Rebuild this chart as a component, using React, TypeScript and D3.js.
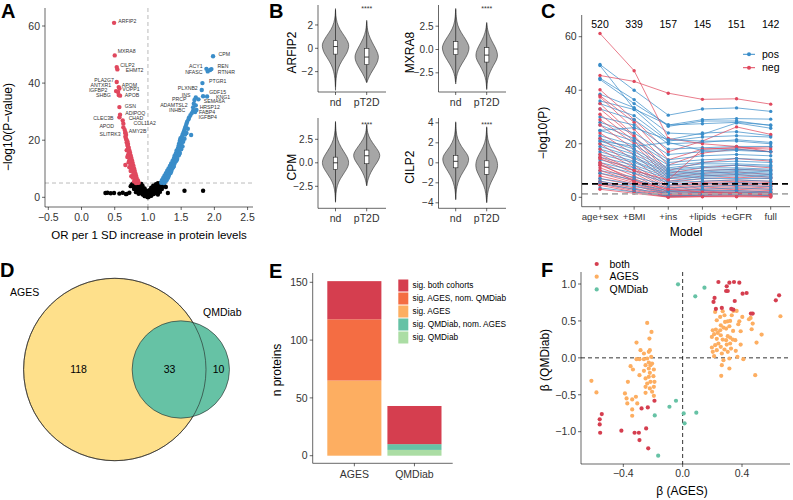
import React from 'react';
import * as d3 from 'd3';

const FONT = '"Liberation Sans", Arial, Helvetica, sans-serif';
const RED = '#D53E4F';
const ORANGE = '#F46D43';
const LORANGE = '#FDAE61';
const YELLOW = '#FEE08B';
const LGREEN = '#ABDDA4';
const TEAL = '#66C2A5';
const VRED = '#E0485E';
const VBLUE = '#3A8DC9';

// ---------------- Panel A: volcano ----------------
const aRedLabeled: [string, number, number][] = [
  ['ARFIP2', 0.49, 61.1], ['MXRA8', 0.5, 49.7], ['CILP2', 0.53, 45.6], ['EHMT2', 0.54, 44.8],
  ['PLA2G7', 0.53, 40.4], ['ANTXR1', 0.56, 38.6], ['APOM', 0.57, 38.1], ['IGFBP2', 0.52, 37.2],
  ['VOPP1', 0.55, 36.9], ['SHBG', 0.56, 35.8], ['APOB', 0.58, 35.6], ['GSN', 0.57, 31.6],
  ['ADIPOQ', 0.58, 28.9], ['CLEC3B', 0.57, 28.0], ['CHAD', 0.62, 26.9], ['COL11A2', 0.63, 25.8],
  ['APOD', 0.63, 24.5], ['AMY2B', 0.65, 23.6], ['SLITRK3', 0.66, 22.8],
];
const aRedLabelPos: [number, number][] = [
  [0.69, 61.6], [0.68, 51.3], [0.69, 46.3], [0.8, 44.4], [0.34, 41.1], [0.29, 39.1], [0.72, 39.4],
  [0.25, 37.5], [0.745, 37.7], [0.33, 35.6], [0.76, 35.9], [0.735, 32.0], [0.81, 29.5], [0.33, 27.8],
  [0.82, 27.8], [0.95, 25.9], [0.38, 25.0], [0.845, 23.3], [0.43, 22.1],
];
const aBlueLabeled: [string, number, number][] = [
  ['CPM', 1.98, 49.4], ['ACY1', 1.88, 45.0], ['REN', 1.935, 44.6], ['NFASC', 1.9, 44.1],
  ['RTN4R', 1.955, 44.9], ['PTGR1', 1.82, 40.0], ['PLXNB2', 1.81, 37.6], ['GDF15', 1.83, 35.4],
  ['KNG1', 1.89, 35.3], ['INS', 1.72, 35.0], ['SEMA6A', 1.76, 34.3], ['PRCP', 1.7, 34.1],
  ['ADAMTSL2', 1.69, 32.8], ['HRSP12', 1.72, 32.2], ['INHBC', 1.68, 31.5], ['FABP4', 1.73, 30.6],
  ['IGFBP4', 1.71, 29.9],
];
const aBlueLabelPos: [number, number][] = [
  [2.15, 50.2], [1.72, 45.8], [2.13, 46.0], [1.69, 43.8], [2.18, 44.0], [2.05, 40.6], [1.6, 38.2],
  [2.05, 36.9], [2.13, 35.2], [1.575, 35.8], [2.0, 33.5], [1.47, 34.2], [1.39, 32.4], [1.93, 31.6],
  [1.44, 30.4], [1.89, 29.8], [1.9, 28.0],
];
const aRedArm: [number, number][] = [
  [0.84, 5.2], [0.83, 5.6], [0.85, 5.9], [0.82, 6.3], [0.83, 6.8], [0.81, 7.1], [0.82, 7.6], [0.8, 8.0],
  [0.81, 8.4], [0.79, 8.9], [0.8, 9.3], [0.78, 9.8], [0.79, 10.2], [0.77, 10.7], [0.78, 11.1], [0.76, 11.6],
  [0.77, 12.0], [0.75, 12.5], [0.76, 12.9], [0.74, 13.4], [0.75, 13.8], [0.73, 14.3], [0.74, 14.7],
  [0.72, 15.2], [0.73, 15.6], [0.71, 16.1], [0.72, 16.5], [0.7, 17.0], [0.71, 17.4], [0.7, 17.9],
  [0.69, 18.3], [0.7, 18.7], [0.68, 19.2], [0.69, 19.6], [0.68, 20.0], [0.67, 20.5], [0.66, 21.2],
  [0.67, 21.8], [0.66, 22.4], [0.8, 6.5], [0.78, 8.2], [0.76, 10.0], [0.74, 11.5], [0.72, 13.0],
  [0.7, 14.8], [0.75, 7.4], [0.86, 5.1], [0.82, 5.0], [0.72, 10.5], [0.68, 16.5], [0.66, 11.3],
  [0.79, 5.5], [0.77, 6.9], [0.74, 9.2], [0.71, 12.3], [0.69, 14.1],
];
const aBlueArm: [number, number][] = [
  [1.2, 5.1], [1.22, 5.5], [1.21, 6.0], [1.24, 6.3], [1.23, 6.8], [1.26, 7.1], [1.25, 7.6], [1.28, 7.9],
  [1.27, 8.4], [1.3, 8.8], [1.29, 9.3], [1.32, 9.6], [1.31, 10.1], [1.34, 10.5], [1.33, 11.0], [1.36, 11.4],
  [1.35, 11.9], [1.38, 12.2], [1.37, 12.7], [1.4, 13.1], [1.39, 13.6], [1.41, 14.0], [1.4, 14.5],
  [1.43, 14.9], [1.42, 15.4], [1.44, 15.8], [1.43, 16.3], [1.46, 16.6], [1.45, 17.1], [1.47, 17.5],
  [1.46, 18.0], [1.48, 18.4], [1.47, 18.9], [1.49, 19.3], [1.48, 19.8], [1.5, 20.2], [1.49, 20.7],
  [1.51, 21.1], [1.52, 21.8], [1.53, 22.4], [1.54, 23.0], [1.55, 23.7], [1.56, 24.4], [1.57, 25.0],
  [1.58, 25.8], [1.59, 26.5], [1.61, 27.3], [1.62, 28.0], [1.64, 28.8], [1.66, 29.5], [1.68, 30.3],
  [1.28, 6.0], [1.32, 8.0], [1.36, 9.8], [1.4, 11.8], [1.44, 13.5], [1.48, 15.5], [1.52, 17.8],
  [1.55, 20.5], [1.25, 5.2], [1.3, 6.8], [1.34, 8.5], [1.38, 10.5], [1.42, 12.6], [1.46, 14.6],
  [1.5, 16.8], [1.53, 19.5], [1.58, 22.5], [1.65, 21.8], [1.56, 22.0], [1.24, 5.0], [1.27, 5.8],
  [1.31, 7.3], [1.35, 9.0], [1.39, 11.0], [1.43, 13.0], [1.47, 15.0], [1.51, 19.0], [1.6, 24.0],
];
const aBlack: [number, number][] = [
  [1.0, 0.0], [0.99, 0.2], [1.01, 0.2], [0.98, 0.4], [1.02, 0.4], [0.97, 0.6], [1.03, 0.6], [0.96, 0.8],
  [1.04, 0.8], [0.95, 1.0], [1.05, 1.0], [0.94, 1.3], [1.06, 1.3], [0.93, 1.6], [1.07, 1.6], [0.92, 1.9],
  [1.08, 1.9], [0.91, 2.2], [1.09, 2.2], [0.9, 2.5], [1.1, 2.5], [0.89, 2.8], [1.11, 2.8], [0.88, 3.1],
  [1.12, 3.1], [0.87, 3.4], [1.13, 3.4], [0.86, 3.7], [1.14, 3.7], [0.85, 4.0], [1.15, 4.0], [0.84, 4.3],
  [1.17, 4.3], [0.83, 4.6], [1.18, 4.6], [0.82, 4.9], [1.19, 4.9], [0.95, 0.4], [1.05, 0.5], [0.92, 1.0],
  [1.08, 1.1], [0.9, 1.5], [1.11, 1.4], [0.88, 2.0], [1.13, 2.0], [0.86, 2.6], [1.16, 2.7], [0.84, 3.2],
  [1.19, 3.3], [0.8, 4.1], [1.22, 4.2], [0.78, 4.8], [1.24, 4.9], [0.76, 4.5], [0.79, 2.9], [1.21, 2.9],
  [0.82, 1.8], [1.18, 1.9], [0.86, 1.2], [1.15, 1.0], [0.72, 1.6], [0.68, 1.2], [1.3, 1.5], [1.27, 3.6],
  [0.9, 3.5], [0.93, 2.8], [0.96, 1.8], [1.04, 1.9], [1.07, 2.9], [1.1, 3.6], [0.88, 4.3], [0.92, 4.0],
  [0.95, 3.1], [0.98, 2.2], [1.02, 2.5], [1.05, 3.4], [1.08, 4.1], [1.12, 4.6], [0.86, 4.8], [0.8, 3.4],
  [0.83, 2.4], [1.17, 2.4], [1.2, 3.8], [0.97, 1.3], [1.03, 1.4], [0.94, 2.3], [1.06, 2.2], [0.9, 4.7],
  [1.15, 4.9], [0.74, 3.9], [0.77, 4.0], [1.25, 3.9],
  [0.36, 1.5], [0.39, 1.6], [0.44, 1.4], [0.49, 1.5], [0.57, 1.3], [0.62, 1.6], [0.67, 1.1],
  [1.55, 2.3], [1.83, 2.3],
];
const aXTicks = [-0.5, 0, 0.5, 1, 1.5, 2, 2.5];
const aYTicks = [0, 20, 40, 60];

// ---------------- Panel B: violins ----------------
const bGenes = ['ARFIP2', 'MXRA8', 'CPM', 'CILP2'];
const bGroups = ['nd', 'pT2D'];
const bTicks = [[-2, 0, 2], [-2.5, 0, 2.5], [-2.5, 0, 2.5], [-4, -2, 0, 2, 4]];
// density profiles: [value, relative half-width]
const bProfiles: [number, number][][][] = [
  [
    [[3.4, 0], [2.8, 0.02], [2.2, 0.1], [1.6, 0.32], [1.0, 0.7], [0.5, 0.95], [0.2, 1.0], [-0.3, 0.9], [-0.8, 0.62], [-1.4, 0.3], [-2.0, 0.12], [-2.6, 0.04], [-3.2, 0.01], [-3.6, 0]],
    [[2.4, 0], [1.8, 0.03], [1.2, 0.12], [0.5, 0.4], [0, 0.65], [-0.5, 0.85], [-0.8, 0.88], [-1.2, 0.8], [-1.7, 0.55], [-2.2, 0.28], [-2.6, 0.12], [-2.95, 0]],
  ],
  [
    [[4.4, 0], [3.5, 0.03], [2.6, 0.12], [1.8, 0.4], [1.0, 0.78], [0.4, 0.98], [0.1, 1.0], [-0.5, 0.9], [-1.2, 0.6], [-1.9, 0.3], [-2.6, 0.1], [-3.2, 0.03], [-3.7, 0]],
    [[2.9, 0], [2.2, 0.05], [1.4, 0.2], [0.6, 0.5], [0, 0.72], [-0.6, 0.83], [-1.1, 0.75], [-1.7, 0.5], [-2.4, 0.25], [-3.0, 0.1], [-3.6, 0.03], [-4.3, 0]],
  ],
  [
    [[4.4, 0], [3.4, 0.03], [2.5, 0.12], [1.6, 0.42], [0.8, 0.8], [0.2, 1.0], [-0.4, 0.95], [-1.0, 0.68], [-1.7, 0.35], [-2.4, 0.12], [-3.2, 0.03], [-4.2, 0]],
    [[4.1, 0], [3.2, 0.05], [2.5, 0.25], [1.8, 0.6], [1.2, 0.9], [0.8, 1.0], [0.3, 0.9], [-0.3, 0.6], [-1.0, 0.3], [-1.7, 0.1], [-2.45, 0]],
  ],
  [
    [[4.1, 0], [3.2, 0.03], [2.4, 0.12], [1.6, 0.42], [0.9, 0.85], [0.4, 1.0], [-0.2, 0.88], [-0.9, 0.55], [-1.6, 0.25], [-2.4, 0.08], [-3.0, 0.02], [-3.7, 0]],
    [[3.6, 0], [2.8, 0.03], [2.0, 0.12], [1.2, 0.4], [0.5, 0.72], [-0.3, 0.85], [-0.9, 0.72], [-1.6, 0.45], [-2.3, 0.2], [-3.0, 0.06], [-4.0, 0]],
  ],
];
// box stats: [lo, q1, median, q3, hi]
const bBoxes: number[][][] = [
  [[-3.3, -0.5, 0.15, 0.65, 3.3], [-2.9, -1.4, -0.75, 0.0, 2.3]],
  [[-3.5, -0.55, 0.05, 0.85, 4.3], [-4.2, -1.35, -0.6, 0.2, 2.8]],
  [[-4.1, -0.7, 0.0, 0.6, 4.3], [-2.4, -0.1, 0.75, 1.35, 4.0]],
  [[-3.6, -0.5, 0.15, 0.75, 4.0], [-3.9, -1.15, -0.45, 0.2, 3.5]],
];
const bSig = ['****', '****', '****', '****'];

// ---------------- Panel C: model trajectories ----------------
const cModels = ['age+sex', '+BMI', '+ins', '+lipids', '+eGFR', 'full'];
const cCounts = [520, 339, 157, 145, 151, 142];
const cYTicks = [0, 20, 40, 60];
const cSign: string[] = [
  'pos', 'pos', 'pos', 'pos', 'pos', 'pos', 'neg', 'neg', 'pos', 'neg', 'pos', 'neg', 'pos', 'neg',
  'pos', 'neg', 'pos', 'neg', 'pos', 'neg', 'pos', 'pos', 'neg', 'pos', 'pos', 'neg', 'pos', 'pos',
  'neg', 'pos', 'pos', 'neg', 'pos', 'neg', 'pos', 'neg', 'pos', 'neg', 'neg', 'pos', 'neg', 'neg',
  'pos', 'neg', 'neg', 'pos', 'neg', 'neg', 'pos', 'neg', 'pos', 'neg', 'neg', 'pos', 'neg', 'pos',
  'pos', 'neg', 'neg', 'neg', 'pos', 'neg',
];
const cValues: number[][] = [
  [49.6, 40.0, 30.7, 33.0, 33.4, 32.1],
  [49.2, 33.0, 27.0, 29.0, 29.4, 29.2],
  [44.5, 36.5, 26.5, 28.5, 28.5, 26.8],
  [44.0, 35.0, 27.0, 27.5, 28.0, 27.0],
  [38.5, 33.5, 24.0, 23.5, 27.8, 25.8],
  [36.0, 32.8, 21.5, 24.0, 24.5, 23.0],
  [40.2, 29.0, 17.0, 21.0, 26.3, 23.5],
  [38.0, 28.0, 14.0, 18.0, 18.5, 18.8],
  [35.0, 30.5, 21.0, 22.5, 23.0, 22.5],
  [37.5, 25.5, 12.0, 16.5, 18.0, 17.0],
  [33.0, 29.0, 20.0, 20.5, 21.5, 20.5],
  [35.0, 23.0, 10.0, 13.0, 14.5, 13.5],
  [30.0, 27.0, 18.0, 18.5, 19.0, 19.0],
  [33.0, 22.5, 9.0, 11.0, 12.0, 11.0],
  [28.0, 24.0, 16.0, 17.0, 17.5, 17.0],
  [31.0, 21.0, 8.0, 10.0, 10.5, 10.0],
  [27.0, 22.0, 14.0, 15.5, 16.0, 15.5],
  [29.0, 20.0, 7.0, 9.0, 9.5, 8.5],
  [25.0, 21.0, 13.0, 14.0, 14.5, 14.0],
  [27.0, 18.0, 6.0, 8.0, 8.5, 7.5],
  [23.0, 19.5, 12.0, 13.0, 13.5, 13.0],
  [22.0, 18.0, 11.0, 12.5, 12.5, 12.0],
  [24.0, 16.0, 5.5, 7.0, 7.5, 7.0],
  [21.0, 17.0, 10.5, 11.5, 12.0, 11.5],
  [20.0, 16.0, 10.0, 11.0, 11.0, 10.5],
  [22.0, 14.0, 4.5, 6.0, 6.5, 6.0],
  [19.0, 15.0, 9.5, 10.0, 10.5, 10.0],
  [18.0, 14.5, 9.0, 9.5, 10.0, 9.5],
  [20.0, 12.0, 4.0, 5.5, 6.0, 5.5],
  [17.0, 13.5, 8.5, 9.0, 9.5, 9.0],
  [16.0, 13.0, 8.0, 8.5, 9.0, 8.5],
  [18.0, 11.0, 3.5, 5.0, 5.5, 5.0],
  [15.0, 12.0, 7.5, 8.0, 8.5, 8.0],
  [16.0, 10.0, 3.0, 4.5, 5.0, 4.5],
  [14.0, 11.0, 7.0, 7.5, 8.0, 7.5],
  [14.5, 9.0, 2.5, 4.0, 4.5, 4.0],
  [13.0, 10.0, 6.0, 7.0, 7.0, 7.0],
  [13.0, 8.0, 2.0, 3.5, 4.0, 3.5],
  [61.2, 47.3, 22.0, 20.0, 19.0, 17.0],
  [12.0, 9.0, 5.5, 6.0, 6.5, 6.0],
  [12.0, 7.0, 2.0, 3.0, 3.5, 3.0],
  [11.0, 6.5, 1.5, 2.5, 3.0, 2.5],
  [10.0, 7.5, 4.5, 5.0, 5.5, 5.0],
  [10.0, 6.0, 1.2, 2.0, 2.5, 2.0],
  [9.0, 5.5, 1.0, 1.8, 2.0, 1.8],
  [9.0, 6.5, 3.5, 4.0, 4.5, 4.0],
  [8.0, 5.0, 0.8, 1.5, 1.8, 1.5],
  [7.0, 4.5, 0.6, 1.2, 1.5, 1.2],
  [7.0, 5.0, 2.5, 3.0, 3.5, 3.0],
  [6.0, 3.5, 0.5, 1.0, 1.2, 1.0],
  [6.0, 4.0, 2.0, 2.5, 2.5, 2.0],
  [5.5, 3.0, 0.3, 0.8, 1.0, 0.7],
  [5.0, 2.5, 0.2, 0.5, 0.7, 0.5],
  [5.2, 3.0, 1.5, 1.8, 2.0, 1.5],
  [4.5, 2.0, 0.1, 0.3, 0.4, 0.3],
  [3.5, 2.0, 0.5, 0.8, 1.0, 0.6],
  [25.0, 26.0, 21.5, 21.0, 21.0, 20.0],
  [3.0, 1.5, 0.05, 0.2, 0.2, 0.1],
  [15.0, 10.0, 6.5, 18.0, 18.5, 18.0],
  [45.5, 43.3, 38.9, 36.6, 36.8, 34.8],
  [21.0, 19.0, 20.5, 17.5, 18.0, 17.0],
  [12.5, 6.0, 3.0, 2.0, 1.5, 1.0],
];

// ---------------- Panel D: Venn ----------------
const dSets = ['AGES', 'QMDiab'];
const dCounts = [118, 33, 10];

// ---------------- Panel E: stacked bars ----------------
const eCohorts = ['AGES', 'QMDiab'];
const eCategories = ['sig. both cohorts', 'sig. AGES, nom. QMDiab', 'sig. AGES', 'sig. QMDiab, nom. AGES', 'sig. QMDiab'];
const eColors = [RED, ORANGE, LORANGE, TEAL, LGREEN];
// counts per category (same order as eCategories) for each cohort
const eAges = [33, 53, 65, 0, 0];
const eQmdiab = [33, 0, 0, 5, 5];
const eYTicks = [0, 50, 100, 150];

// ---------------- Panel F: beta scatter ----------------
const fBoth: [number, number][] = [
  [0.241, 1.027], [0.315, 1.018], [0.346, 1.027], [0.382, 1.018], [0.297, 0.968], [0.293, 0.905],
  [0.304, 0.905], [0.215, 0.811], [0.208, 0.757], [0.351, 0.77], [0.404, 0.869], [0.431, 0.878],
  [0.65, 0.847], [0.628, 0.779], [0.224, 0.662], [0.264, 0.676], [0.328, 0.662], [0.342, 0.653],
  [0.46, 0.599], [0.472, 0.599], [-0.19, -0.581], [-0.235, -0.671], [-0.277, -0.685], [-0.545, -0.761],
  [-0.559, -0.833], [-0.559, -0.901], [-0.556, -1.014], [-0.413, -0.986], [-0.324, -1.014],
  [-0.295, -1.014], [-0.246, -0.955], [-0.291, -1.113], [-0.232, -1.225],
];
const fQmdiab: [number, number][] = [
  [-0.031, 0.995], [0.147, 0.95], [0.085, 0.833], [-0.045, -0.581], [-0.089, -0.662], [-0.188, -0.779],
  [0.007, -0.752], [0.092, -0.743], [0.013, -0.887], [-0.165, -1.324],
];
const fAges: [number, number][] = [
  [0.659, 0.563], [0.532, 0.315], [0.498, 0.207], [0.489, -0.234], [0.472, 0.464], [0.465, 0.387],
  [0.458, 0.541], [0.447, 0.523], [0.402, 0.554], [0.382, 0.495], [0.375, 0.455], [0.391, 0.36],
  [0.391, 0.18], [0.409, -0.018], [0.364, 0.635], [0.342, 0.635], [0.331, 0.577], [0.32, 0.5],
  [0.304, 0.495], [0.286, 0.486], [0.27, 0.631], [0.282, 0.577], [0.253, 0.554], [0.219, 0.622],
  [0.23, 0.509], [0.257, 0.441], [0.275, 0.41], [0.293, 0.396], [0.315, 0.428], [0.34, 0.365],
  [0.304, 0.293], [0.32, 0.275], [0.338, 0.248], [0.355, 0.239], [0.326, 0.126], [0.32, 0.194],
  [0.27, 0.248], [0.257, 0.306], [0.237, 0.338], [0.203, 0.374], [0.197, 0.284], [0.212, 0.32],
  [0.224, 0.383], [0.23, 0.257], [0.241, 0.194], [0.219, 0.171], [0.197, 0.14], [0.203, 0.081],
  [0.212, 0.023], [0.23, 0.104], [0.257, 0.149], [0.282, 0.113], [0.264, 0.059], [0.297, 0.18],
  [0.304, 0.081], [0.358, 0.095], [0.315, -0.009], [0.315, -0.144], [0.264, -0.099], [0.26, -0.243],
  [0.275, -0.032], [0.369, 0.014], [0.293, 0.239], [0.253, 0.374],
  [-0.239, 0.473], [-0.21, 0.351], [-0.224, 0.261], [-0.311, 0.207], [-0.284, 0.104], [-0.221, 0.104],
  [-0.351, -0.113], [-0.311, -0.018], [-0.291, -0.018], [-0.261, -0.018], [-0.239, -0.009],
  [-0.228, -0.063], [-0.217, -0.099], [-0.206, -0.077], [-0.194, -0.158], [-0.228, -0.144],
  [-0.335, -0.158], [-0.291, -0.234], [-0.25, -0.279], [-0.228, -0.257], [-0.197, -0.248],
  [-0.217, -0.324], [-0.25, -0.392], [-0.221, -0.414], [-0.194, -0.392], [-0.206, -0.459],
  [-0.194, -0.514], [-0.25, -0.473], [-0.369, -0.324], [-0.389, -0.482], [-0.378, -0.55],
  [-0.315, -0.527], [-0.34, -0.563], [-0.306, -0.617], [-0.34, -0.698], [-0.34, -0.784],
  [-0.373, -0.617], [-0.615, -0.311], [-0.581, -0.468], [-0.228, 0.081], [-0.212, 0.014],
  [-0.25, -0.099], [-0.261, -0.176], [-0.221, -0.203], [-0.19, -0.324], [-0.239, -0.347], [-0.261, 0.059],
];
const fGroups = ['both', 'AGES', 'QMDiab'];
const fXTicks = [-0.4, 0, 0.4];
const fYTicks = [-1, -0.5, 0, 0.5, 1];

// ---------------- helpers ----------------
const AX = '#000';
const TXT = '#333';

function AxisLeft(props: { x: number; y0: number; y1: number; scale: (v: number) => number; ticks: number[]; fmt: (v: number) => string; fs?: number }) {
  const { x, y0, y1, scale, ticks, fmt } = props;
  const fs = props.fs ?? 10;
  return (
    <g>
      <line x1={x} x2={x} y1={y0} y2={y1} stroke={AX} strokeWidth={0.6} />
      {ticks.map((t) => (
        <g key={t}>
          <line x1={x - 3} x2={x} y1={scale(t)} y2={scale(t)} stroke={AX} strokeWidth={0.6} />
          <text x={x - 5} y={scale(t)} dy="0.36em" textAnchor="end" fontSize={fs} fill={TXT}>{fmt(t)}</text>
        </g>
      ))}
    </g>
  );
}

function AxisBottom(props: { y: number; x0: number; x1: number; pos: number[]; labels: string[]; fs?: number; gap?: number }) {
  const { y, x0, x1, pos, labels } = props;
  const fs = props.fs ?? 10;
  const gap = props.gap ?? 12;
  return (
    <g>
      <line x1={x0} x2={x1} y1={y} y2={y} stroke={AX} strokeWidth={0.6} />
      {pos.map((p, i) => (
        <g key={i}>
          <line x1={p} x2={p} y1={y} y2={y + 3} stroke={AX} strokeWidth={0.6} />
          <text x={p} y={y + gap} textAnchor="middle" fontSize={fs} fill={TXT}>{labels[i]}</text>
        </g>
      ))}
    </g>
  );
}

const f1 = d3.format('.1f');
const f0 = d3.format('d');

function PanelA() {
  const x = d3.scaleLinear([-0.5, 2.5], [48.3, 247.6]);
  const y = d3.scaleLinear([0, 60], [197.3, 26]);
  const r = 2.2;
  return (
    <g>
      <line x1={x(1)} x2={x(1)} y1={8} y2={207} stroke="#aaa" strokeWidth={0.8} strokeDasharray="4,3" />
      <line x1={45} x2={253} y1={y(5)} y2={y(5)} stroke="#aaa" strokeWidth={0.8} strokeDasharray="4,3" />
      {aBlack.map((d, i) => <circle key={'k' + i} cx={x(d[0])} cy={y(d[1])} r={r} fill="#000" />)}
      {aRedArm.map((d, i) => <circle key={'r' + i} cx={x(d[0])} cy={y(d[1])} r={r} fill={VRED} />)}
      {aBlueArm.map((d, i) => <circle key={'b' + i} cx={x(d[0])} cy={y(d[1])} r={r} fill={VBLUE} />)}
      {aRedLabeled.map((d, i) => <circle key={'rl' + i} cx={x(d[1])} cy={y(d[2])} r={r} fill={VRED} />)}
      {aBlueLabeled.map((d, i) => <circle key={'bl' + i} cx={x(d[1])} cy={y(d[2])} r={r} fill={VBLUE} />)}
      {aRedLabeled.map((d, i) => (
        <text key={'rt' + i} x={x(aRedLabelPos[i][0])} y={y(aRedLabelPos[i][1])} dy="0.35em" textAnchor="middle" fontSize={5.2} fill="#333">{d[0]}</text>
      ))}
      {aBlueLabeled.map((d, i) => (
        <text key={'bt' + i} x={x(aBlueLabelPos[i][0])} y={y(aBlueLabelPos[i][1])} dy="0.35em" textAnchor="middle" fontSize={5.2} fill="#333">{d[0]}</text>
      ))}
      <AxisLeft x={45} y0={8} y1={207} scale={y} ticks={aYTicks} fmt={f0} fs={10.5} />
      <AxisBottom y={207} x0={45} x1={253} pos={aXTicks.map((t) => x(t))} labels={aXTicks.map((t) => f1(t))} fs={10.5} gap={14} />
      <text x={149} y={239} textAnchor="middle" fontSize={11.5} fill="#000">OR per 1 SD increase in protein levels</text>
      <text transform="translate(12,127) rotate(-90)" textAnchor="middle" fontSize={12} fill="#000">{'\u2212log10(P\u2212value)'}</text>
    </g>
  );
}

function PanelB() {
  const layout = [
    { ax: 318, ax1: 386, top: 5, bot: 92, y0v: 48.3, ppu: 11.67, xs: [335.5, 366.7], lab: 292, sigY: 7 },
    { ax: 438.5, ax1: 506, top: 5, bot: 92, y0v: 49.5, ppu: 9.33, xs: [455.7, 486.7], lab: 410, sigY: 7 },
    { ax: 318, ax1: 386, top: 118, bot: 208.3, y0v: 162.8, ppu: 9.4, xs: [335.5, 366.7], lab: 292, sigY: 123 },
    { ax: 438.5, ax1: 506, top: 118, bot: 208.3, y0v: 162.8, ppu: 10.0, xs: [455.7, 486.7], lab: 410, sigY: 123 },
  ];
  const hw = 13.5;
  return (
    <g>
      {bGenes.map((g, gi) => {
        const L = layout[gi];
        const ys = (v: number) => L.y0v - v * L.ppu;
        const fmt = gi === 0 || gi === 3 ? f0 : f1;
        return (
          <g key={g}>
            {bGroups.map((grp, k) => {
              const cx = L.xs[k];
              const area = d3.area<[number, number]>()
                .y((d) => ys(d[0]))
                .x0((d) => cx - d[1] * hw)
                .x1((d) => cx + d[1] * hw)
                .curve(d3.curveBasis);
              const b = bBoxes[gi][k];
              return (
                <g key={grp}>
                  <path d={area(bProfiles[gi][k]) || ''} fill="#a6a6a6" stroke="#333" strokeWidth={0.6} />
                  <line x1={cx} x2={cx} y1={ys(b[0])} y2={ys(b[4])} stroke="#222" strokeWidth={0.7} />
                  <rect x={cx - 2.2} width={4.4} y={ys(b[3])} height={ys(b[1]) - ys(b[3])} fill="#fff" stroke="#222" strokeWidth={0.6} />
                  <line x1={cx - 2.2} x2={cx + 2.2} y1={ys(b[2])} y2={ys(b[2])} stroke="#222" strokeWidth={0.9} />
                </g>
              );
            })}
            <text x={L.xs[1]} y={L.sigY} dy="0.5em" textAnchor="middle" fontSize={7} fill="#333">{bSig[gi]}</text>
            <AxisLeft x={L.ax} y0={L.top} y1={L.bot} scale={ys} ticks={bTicks[gi]} fmt={fmt} fs={10} />
            <AxisBottom y={L.bot} x0={L.ax} x1={L.ax1} pos={L.xs} labels={bGroups} fs={10.5} gap={14} />
            <text transform={`translate(${L.lab + 4},${(L.top + L.bot) / 2 + 4}) rotate(-90)`} textAnchor="middle" fontSize={12} fill="#000">{g}</text>
          </g>
        );
      })}
    </g>
  );
}

function PanelC() {
  const x = d3.scalePoint<string>().domain(cModels).range([600, 770.7]);
  const y = d3.scaleLinear([0, 60], [197.3, 36.7]);
  const line = d3.line<number>().x((_, i) => x(cModels[i]) as number).y((d) => y(d));
  const col = (s: string) => (s === 'pos' ? VBLUE : VRED);
  return (
    <g>
      {cValues.map((vals, i) => (
        <g key={i}>
          <path d={line(vals) || ''} fill="none" stroke={col(cSign[i])} strokeWidth={0.9} strokeOpacity={0.8} />
          {vals.map((v, j) => (
            <circle key={j} cx={x(cModels[j]) as number} cy={y(v)} r={1.7} fill={col(cSign[i])} />
          ))}
        </g>
      ))}
      <line x1={582} x2={790} y1={y(5)} y2={y(5)} stroke="#000" strokeWidth={1.8} strokeDasharray="6,4" />
      <line x1={582} x2={790} y1={y(1.3)} y2={y(1.3)} stroke="#aaa" strokeWidth={1.8} strokeDasharray="6,4" />
      {cCounts.map((c, i) => (
        <text key={i} x={x(cModels[i]) as number} y={28} textAnchor="middle" fontSize={10.5} fill="#000">{c}</text>
      ))}
      <AxisLeft x={581.7} y0={15} y1={206.7} scale={y} ticks={cYTicks} fmt={f0} fs={10.5} />
      <AxisBottom y={206.7} x0={581.7} x1={790} pos={cModels.map((m) => x(m) as number)} labels={cModels} fs={9.6} gap={13} />
      <text x={686} y={236} textAnchor="middle" fontSize={12} fill="#000">Model</text>
      <text transform="translate(547,133) rotate(-90)" textAnchor="middle" fontSize={12} fill="#000">{'\u2212log10(P)'}</text>
      {['pos', 'neg'].map((s, i) => (
        <g key={s}>
          <line x1={743} x2={755} y1={54.3 + i * 13.4} y2={54.3 + i * 13.4} stroke={col(s)} strokeWidth={1} />
          <circle cx={749} cy={54.3 + i * 13.4} r={2} fill={col(s)} />
          <text x={762} y={54.3 + i * 13.4} dy="0.35em" fontSize={10.5} fill="#000">{s}</text>
        </g>
      ))}
    </g>
  );
}

function PanelD() {
  // area-proportional radii from set sizes
  const nA = dCounts[0] + dCounts[1];
  const nQ = dCounts[1] + dCounts[2];
  const rA = 91.2;
  const rQ = rA * Math.sqrt(nQ / nA);
  const cyy = 369.5;
  const cxA = 114.8;
  const cxQ = 180.8;
  return (
    <g>
      <circle cx={cxA} cy={cyy} r={rA} fill={YELLOW} stroke="#222" strokeWidth={0.6} />
      <circle cx={cxQ} cy={cyy} r={rQ} fill={TEAL} stroke="#222" strokeWidth={0.6} />
      <circle cx={cxA} cy={cyy} r={rA} fill="none" stroke="#222" strokeWidth={0.6} />
      <text x={78.5} y={cyy} dy="0.36em" textAnchor="middle" fontSize={10.5} fill="#000">{dCounts[0]}</text>
      <text x={169.5} y={cyy} dy="0.36em" textAnchor="middle" fontSize={10.5} fill="#000">{dCounts[1]}</text>
      <text x={218.5} y={cyy} dy="0.36em" textAnchor="middle" fontSize={10.5} fill="#000">{dCounts[2]}</text>
      <text x={10} y={295.5} fontSize={10.5} fill="#000">{dSets[0]}</text>
      <text x={203} y={316} fontSize={10.5} fill="#000">{dSets[1]}</text>
    </g>
  );
}

function PanelE() {
  const x = d3.scaleBand<string>().domain(eCohorts).range([327.3, 441.5]).paddingInner(0.1).paddingOuter(0);
  const y = d3.scaleLinear([0, 150], [455.7, 282.3]);
  const stacks = [eAges, eQmdiab];
  return (
    <g>
      {eCohorts.map((c, ci) => {
        const vals = stacks[ci];
        let acc = 0;
        const segs: any[] = [];
        [4, 3, 2, 1, 0].forEach((k) => {
          const v = vals[k];
          if (v > 0) {
            segs.push(
              <rect key={k} x={x(c) as number} width={x.bandwidth()} y={y(acc + v)} height={y(acc) - y(acc + v)} fill={eColors[k]} />
            );
            acc += v;
          }
        });
        return <g key={c}>{segs}</g>;
      })}
      <AxisLeft x={312.7} y0={273} y1={463.3} scale={y} ticks={eYTicks} fmt={f0} fs={10.5} />
      <AxisBottom y={463.3} x0={312.7} x1={452.7} pos={eCohorts.map((c) => (x(c) as number) + x.bandwidth() / 2)} labels={eCohorts} fs={10.5} gap={15} />
      <text transform="translate(281,370) rotate(-90)" textAnchor="middle" fontSize={12} fill="#000">n proteins</text>
      {eCategories.map((c, i) => (
        <g key={c}>
          <rect x={398.3} y={279.5 + i * 13} width={10} height={12} fill={eColors[i]} />
          <text x={412.5} y={285.5 + i * 13} dy="0.35em" fontSize={8.3} fill="#000">{c}</text>
        </g>
      ))}
    </g>
  );
}

function PanelF() {
  const x = d3.scaleLinear([-0.4, 0.4], [623.3, 742]);
  const y = d3.scaleLinear([-1, 1], [431.7, 284]);
  const r = 2.1;
  const cols = [RED, LORANGE, TEAL];
  return (
    <g>
      <line x1={x(0)} x2={x(0)} y1={272} y2={464} stroke="#000" strokeWidth={0.8} strokeDasharray="4,3" />
      <line x1={581} x2={790} y1={y(0)} y2={y(0)} stroke="#000" strokeWidth={0.8} strokeDasharray="4,3" />
      {fAges.map((d, i) => <circle key={'a' + i} cx={x(d[0])} cy={y(d[1])} r={r} fill={LORANGE} />)}
      {fBoth.map((d, i) => <circle key={'b' + i} cx={x(d[0])} cy={y(d[1])} r={r} fill={RED} />)}
      {fQmdiab.map((d, i) => <circle key={'q' + i} cx={x(d[0])} cy={y(d[1])} r={r} fill={TEAL} />)}
      <AxisLeft x={581} y0={272} y1={464} scale={y} ticks={fYTicks} fmt={f1} fs={10.5} />
      <AxisBottom y={464} x0={581} x1={790} pos={fXTicks.map((t) => x(t))} labels={fXTicks.map((t) => f1(t))} fs={10.5} gap={13} />
      <text x={682} y={495} textAnchor="middle" fontSize={12} fill="#000">{'\u03B2 (AGES)'}</text>
      <text transform="translate(549,360) rotate(-90)" textAnchor="middle" fontSize={12} fill="#000">{'\u03B2 (QMDiab)'}</text>
      {fGroups.map((g, i) => (
        <g key={g}>
          <circle cx={596.7} cy={264 + i * 12.7} r={2.1} fill={cols[i]} />
          <text x={609.5} y={264 + i * 12.7} dy="0.35em" fontSize={10.5} fill="#000">{g}</text>
        </g>
      ))}
    </g>
  );
}

export default function App() {
  return (
    <svg width={793} height={500} style={{ position: 'absolute', left: 0, top: 0, background: '#fff' }} fontFamily={FONT}>
      <rect width={793} height={500} fill="#fff" />
      <PanelA />
      <PanelB />
      <PanelC />
      <PanelD />
      <PanelE />
      <PanelF />
      <g fontWeight="bold" fontSize={20} fill="#000">
        <text x={1} y={18}>A</text>
        <text x={269} y={18}>B</text>
        <text x={541} y={18}>C</text>
        <text x={0} y={277}>D</text>
        <text x={269} y={278}>E</text>
        <text x={541} y={277}>F</text>
      </g>
    </svg>
  );
}
